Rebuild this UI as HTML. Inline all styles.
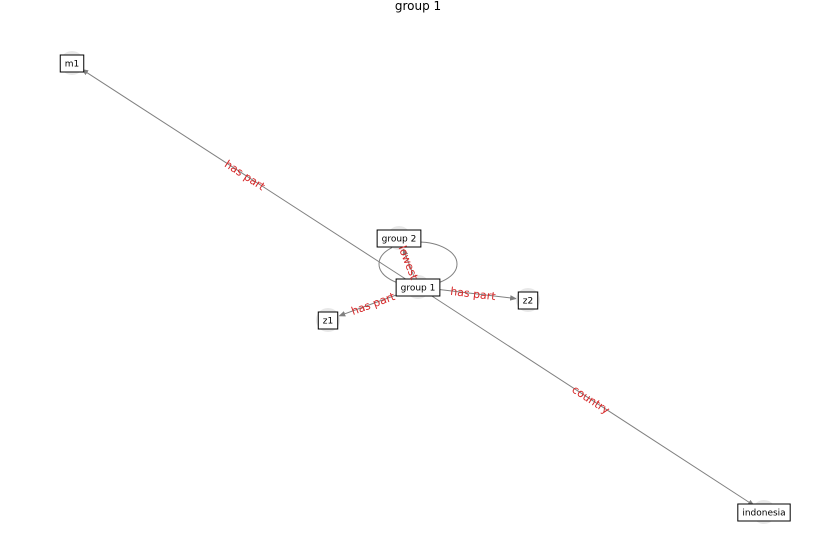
<!DOCTYPE html>
<html><head><meta charset="utf-8"><style>
body{margin:0;background:#fff;}
svg{display:block;font-family:"DejaVu Sans","Liberation Sans",sans-serif;}
</style></head><body>
<svg id="chart" width="837" height="559" viewBox="0 0 837 559">
<defs><marker id="arr" viewBox="0 0 10 10" refX="10" refY="5" markerWidth="7" markerHeight="7" orient="auto"><path d="M0,1 L10,5 L0,9 z" fill="#808080"/></marker></defs>
<text x="418" y="10" text-anchor="middle" font-size="12">group 1</text>
<ellipse cx="418" cy="264" rx="39" ry="22" fill="none" stroke="#808080" stroke-width="1"/>
<g id="edges"></g><g id="nodes"></g><g id="labels"></g>
</svg>
<script>
const nodeNames = ["group 1","group 2","z1","z2","m1","indonesia"];
const nodeX = [418,399,328,528,72,764];
const nodeY = [287,238,320,300,63,512];
const edgeSource = [0,0,0,0,0];
const edgeTarget = [4,1,2,3,5];
const edgeLabels = ["has part","lowest","has part","has part","country"];
const NS="http://www.w3.org/2000/svg";
const eg=document.getElementById('edges'),ng=document.getElementById('nodes'),lg=document.getElementById('labels');
function mk(t,a){const e=document.createElementNS(NS,t);for(const k in a)e.setAttribute(k,a[k]);return e;}
nodeNames.forEach((n,i)=>{
  const c=mk('circle',{cx:nodeX[i],cy:nodeY[i],r:12,fill:'#e8e8e8'});
  
  
  ng.appendChild(c);
});
nodeNames.forEach((n,i)=>{
  const g=mk('g',{});
  
  
  const r=mk('rect',{y:nodeY[i]-8,height:17,fill:'#fff',stroke:'#000','stroke-width':1});
  g.appendChild(r);
  const t=mk('text',{x:nodeX[i],y:nodeY[i]+3.5,'text-anchor':'middle','font-size':9});
  t.textContent=n;g.appendChild(t);ng.appendChild(g);
  const bw=t.getComputedTextLength()+9;
  r.setAttribute('x',nodeX[i]-bw/2);r.setAttribute('width',bw);
});
edgeSource.forEach((s,k)=>{
  const t=edgeTarget[k];
  const x1=nodeX[s],y1=nodeY[s],x2=nodeX[t],y2=nodeY[t];
  const dx=x2-x1,dy=y2-y1,L=Math.hypot(dx,dy);
  const ex=x2-dx/L*11,ey=y2-dy/L*11;
  const l=mk('line',{x1:x1,y1:y1,x2:ex,y2:ey,stroke:'#808080','stroke-width':1,'marker-end':'url(#arr)'});
  
  
  eg.appendChild(l);
  const mx=(x1+x2)/2,my=(y1+y2)/2;
  let ang=Math.atan2(dy,dx)*180/Math.PI;
  if(ang>90)ang-=180; if(ang<-90)ang+=180;
  const tx=mk('text',{x:mx,y:my+4,'text-anchor':'middle','font-size':11,fill:'#d62728',transform:`rotate(${ang} ${mx} ${my})`});
  tx.textContent=edgeLabels[k];
  
  
  lg.appendChild(tx);
});
</script>
</body></html>
